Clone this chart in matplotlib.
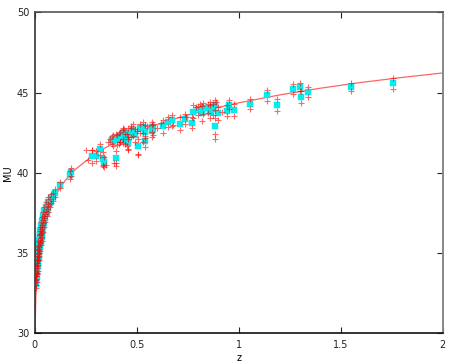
import matplotlib
matplotlib.use("Agg")
import matplotlib.pyplot as plt
import numpy as np

# ---- model curve (distance modulus vs redshift), values read/estimated ----
curve_z = [0.002, 0.003, 0.005, 0.0075, 0.01, 0.015, 0.02, 0.03, 0.04, 0.05,
           0.07, 0.1, 0.15, 0.2, 0.3, 0.4, 0.5, 0.6, 0.7, 0.8, 0.9, 1.0,
           1.2, 1.4, 1.6, 1.8, 2.0]
curve_mu = [29.93, 30.81, 31.93, 32.81, 33.44, 34.33, 34.96, 35.86, 36.50, 37.00,
            37.76, 38.58, 39.53, 40.22, 41.22, 41.95, 42.53, 43.00, 43.41, 43.77,
            44.08, 44.36, 44.85, 45.27, 45.63, 45.94, 46.22]

# ---- supernova data: cyan squares with red points above/below (mu +/- spread) ----
sq_z = [0.004, 0.006, 0.005, 0.009, 0.007, 0.012, 0.009, 0.015, 0.011, 0.017,
        0.012, 0.020, 0.014, 0.022, 0.017, 0.026, 0.021, 0.030, 0.024, 0.034,
        0.027, 0.038, 0.031, 0.042, 0.036, 0.047, 0.042, 0.052, 0.048, 0.059,
        0.055, 0.067, 0.063, 0.074, 0.080, 0.088,
        0.0995, 0.124, 0.173, 0.178, 0.279, 0.300, 0.320, 0.336, 0.341, 0.381,
        0.385, 0.397, 0.402, 0.415, 0.418, 0.431, 0.434, 0.445, 0.451, 0.459,
        0.459, 0.470, 0.483, 0.490, 0.508, 0.516, 0.532, 0.541, 0.541, 0.573,
        0.573, 0.581, 0.631, 0.655, 0.671, 0.712, 0.737, 0.769, 0.777, 0.802,
        0.819, 0.826, 0.851, 0.859, 0.875, 0.884, 0.884, 0.900, 0.941, 0.954,
        0.975, 1.055, 1.140, 1.189, 1.265, 1.300, 1.305, 1.340, 1.550, 1.755]
sq_mu = [33.1, 33.3, 33.6, 33.5, 33.9, 34.0, 34.3, 34.2, 34.6, 34.5,
         34.9, 34.8, 35.2, 35.1, 35.5, 35.4, 35.8, 35.7, 36.1, 36.0,
         36.4, 36.3, 36.7, 36.6, 37.0, 36.9, 37.3, 37.2, 37.6, 37.5,
         37.9, 37.8, 38.2, 38.1, 38.4, 38.5,
         38.73, 39.25, 39.85, 40.05, 41.02, 41.04, 41.46, 40.87, 40.69, 42.04,
         42.00, 40.90, 42.06, 42.14, 42.24, 42.25, 42.46, 42.10, 42.04, 42.46,
         41.83, 42.50, 42.66, 42.35, 41.64, 42.77, 42.83, 42.56, 41.97, 42.87,
         42.60, 42.70, 42.90, 43.18, 43.28, 43.06, 43.36, 43.12, 43.80, 43.89,
         43.70, 44.01, 44.01, 43.80, 43.95, 44.22, 42.92, 43.70, 43.87, 44.25,
         43.91, 44.27, 44.84, 44.22, 45.22, 45.32, 44.72, 45.05, 45.34, 45.57]
sq_d = [0.25, 0.30, 0.20, 0.28, 0.32, 0.22, 0.26, 0.30, 0.24, 0.27,
        0.31, 0.21, 0.25, 0.29, 0.23, 0.27, 0.30, 0.22, 0.26, 0.28,
        0.24, 0.30, 0.21, 0.27, 0.25, 0.29, 0.23, 0.26, 0.30, 0.22,
        0.27, 0.25, 0.29, 0.24, 0.28, 0.26,
        0.25, 0.20, 0.25, 0.22, 0.40, 0.30, 0.35, 0.40, 0.30, 0.25,
        0.35, 0.45, 0.30, 0.35, 0.30, 0.40, 0.35, 0.30, 0.40, 0.35,
        0.40, 0.30, 0.35, 0.40, 0.45, 0.30, 0.35, 0.40, 0.35, 0.30,
        0.40, 0.35, 0.40, 0.30, 0.35, 0.40, 0.30, 0.35, 0.40, 0.30,
        0.45, 0.35, 0.30, 0.40, 0.35, 0.30, 0.50, 0.40, 0.35, 0.30,
        0.40, 0.30, 0.35, 0.40, 0.30, 0.25, 0.35, 0.30, 0.25, 0.35]

# extra red-only data points
ex_z = [0.25, 0.26, 0.279, 0.336, 0.35, 0.36, 0.37, 0.39, 0.398, 0.40,
        0.42, 0.44, 0.459, 0.47, 0.50, 0.508, 0.532,
        0.55, 0.60, 0.62, 0.68, 0.74, 0.79, 0.81,
        0.86, 0.884, 0.89, 0.92, 0.009, 0.016, 0.022, 0.030,
        0.013, 0.019, 0.025, 0.035]
ex_mu = [41.40, 40.80, 41.42, 40.42, 40.50, 41.90, 42.10, 40.60, 40.62, 42.40,
         41.90, 42.70, 41.46, 42.90, 42.60, 41.10, 41.93,
         42.90, 42.80, 43.10, 43.00, 43.50, 44.10, 44.30,
         44.40, 42.10, 44.40, 43.80, 33.70, 34.60, 35.20, 36.10,
         34.40, 35.00, 35.60, 36.40]

xticks = [0, 0.5, 1, 1.5, 2]
xtick_labels = ["0", "0.5", "1", "1.5", "2"]
yticks = [30, 35, 40, 45, 50]
ytick_labels = ["30", "35", "40", "45", "50"]

W, H = 458, 364
fig = plt.figure(figsize=(W / 100, H / 100), dpi=100)
ax = fig.add_axes([34.7 / W, (H - 333.3) / H, 408 / W, 321 / H])

sqz = np.array(sq_z)
sqm = np.array(sq_mu)
sqd = np.array(sq_d)

ax.plot(curve_z, curve_mu, color="#ff3030", lw=0.9, alpha=0.75, zorder=1)
ax.plot(sqz, sqm, ls="none", marker="s", ms=3.8, mfc="#00f0f0", mec="#00e8e8",
        mew=0.3, zorder=2)
red_z = np.concatenate([sqz, sqz, np.array(ex_z)])
red_m = np.concatenate([sqm + sqd, sqm - sqd, np.array(ex_mu)])
ax.plot(red_z, red_m, ls="none", marker="+", ms=4.0, mew=0.8, color="red",
        alpha=0.6, zorder=3)

ax.set_xlim(0, 2)
ax.set_ylim(30, 50)
ax.set_xticks(xticks)
ax.set_xticklabels(xtick_labels)
ax.set_yticks(yticks)
ax.set_yticklabels(ytick_labels)
ax.tick_params(direction="in", length=4, width=0.8, labelsize=7,
               top=True, right=True, colors="#222222")
ax.tick_params(axis="x", pad=5)
ax.tick_params(axis="y", pad=4)

for side, col, lw in [("left", "#333333", 1.2), ("bottom", "#111111", 1.2),
                      ("top", "#555555", 1.2), ("right", "#888888", 1.4)]:
    ax.spines[side].set_color(col)
    ax.spines[side].set_linewidth(lw)

ax.set_xlabel("z", fontsize=7)
ax.set_ylabel("MU", fontsize=7)
ax.xaxis.set_label_coords(0.5, -0.06)
ax.yaxis.set_label_coords(-0.052, 0.5)

fig.savefig("out.png", dpi=100)
